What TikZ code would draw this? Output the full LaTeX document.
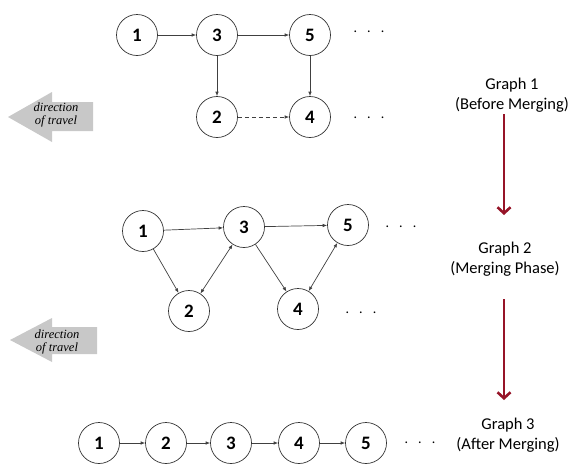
\documentclass[tikz,border=0pt]{standalone}
\usepackage{fontspec}
\setmainfont{Carlito}
\newfontfamily\travelfont{Liberation Serif}
\usetikzlibrary{arrows.meta}
\definecolor{phasered}{RGB}{150,20,40}
\definecolor{travelgray}{RGB}{200,200,200}
\begin{document}
\begin{tikzpicture}[x=1pt,y=-1pt,
  vtx/.style={circle,draw=black!80,line width=0.7pt,minimum size=41pt,inner sep=0pt,font=\fontsize{19}{19}\selectfont\bfseries},
  edge/.style={draw=black!75,line width=0.7pt,-{Latex[length=4.5pt,width=3.5pt]}},
  biedge/.style={draw=black!75,line width=0.7pt,{Latex[length=4.5pt,width=3.5pt]}-{Latex[length=4.5pt,width=3.5pt]}},
  dashedge/.style={edge,dash pattern=on 4pt off 3pt},
  dotrow/.style={inner sep=0pt,font=\fontsize{14}{14}\selectfont},
  lbl/.style={align=center,font=\fontsize{16.5}{20}\selectfont,inner sep=0pt},
  phase/.style={draw=phasered,line width=2.6pt,-{Straight Barb[length=6pt,width=13pt]}},
  travel/.style={fill=travelgray,draw=none},
  traveltext/.style={align=center,font=\travelfont\itshape\fontsize{12.5}{12.5}\selectfont,inner sep=0pt}]
\useasboundingbox (0,0) rectangle (569,464);

% direction arrows
\fill[travel] (8,117) -- (52,92) -- (52,102) -- (93,102) -- (93,131) -- (52,131) -- (52,142) -- cycle;
\node[traveltext] (t1) at (56,115) {direction\\of travel};
\fill[travel] (10,340) -- (52,318) -- (52,327) -- (97,327) -- (97,354) -- (52,354) -- (52,362) -- cycle;
\node[traveltext] (t2) at (57,342) {direction\\of travel};

% Graph 1
\node[vtx] (a1) at (137,35) {1};
\node[vtx] (a3) at (217,35) {3};
\node[vtx] (a5) at (310,35) {5};
\node[vtx] (a2) at (217,117) {2};
\node[vtx] (a4) at (310,117) {4};
\draw[edge] (a1) -- (a3);
\draw[edge] (a3) -- (a5);
\draw[edge] (a3) -- (a2);
\draw[edge] (a5) -- (a4);
\draw[dashedge] (a2) -- (a4);
\node[dotrow] (d1) at (369,32) {.\hspace{10pt}.\hspace{10pt}.};
\node[dotrow] (d2) at (369,118) {.\hspace{10pt}.\hspace{10pt}.};

% Graph 2
\node[vtx] (b1) at (143,231) {1};
\node[vtx] (b3) at (244,227) {3};
\node[vtx] (b5) at (348,225) {5};
\node[vtx] (b2) at (189,311) {2};
\node[vtx] (b4) at (298,309) {4};
\draw[edge] (b1) -- (b3);
\draw[edge] (b3) -- (b5);
\draw[edge] (b1) -- (b2);
\draw[biedge] (b2) -- (b3);
\draw[edge] (b3) -- (b4);
\draw[biedge] (b4) -- (b5);
\node[dotrow] (d3) at (401,227) {.\hspace{10pt}.\hspace{10pt}.};
\node[dotrow] (d4) at (361,313) {.\hspace{10pt}.\hspace{10pt}.};

% Graph 3
\node[vtx] (c1) at (99,443) {1};
\node[vtx] (c2) at (166,443) {2};
\node[vtx] (c3) at (231,443) {3};
\node[vtx] (c4) at (299,443) {4};
\node[vtx] (c5) at (366,443) {5};
\draw[edge] (c1) -- (c2);
\draw[edge] (c2) -- (c3);
\draw[edge] (c3) -- (c4);
\draw[edge] (c4) -- (c5);
\node[dotrow] (d5) at (420,443) {.\hspace{10pt}.\hspace{10pt}.};

% labels
\node[lbl] (g1) at (512,95) {Graph 1\\(Before Merging)};
\node[lbl] (g2) at (505,259) {Graph 2\\(Merging Phase)};
\node[lbl] (g3) at (508,435) {Graph 3\\(After Merging)};

% phase arrows
\coordinate (p1s) at (504,114);
\coordinate (p1e) at (504,215);
\coordinate (p2s) at (504,299);
\coordinate (p2e) at (504,400);
\draw[phase] (p1s) -- (p1e);
\draw[phase] (p2s) -- (p2e);
\end{tikzpicture}
\end{document}
